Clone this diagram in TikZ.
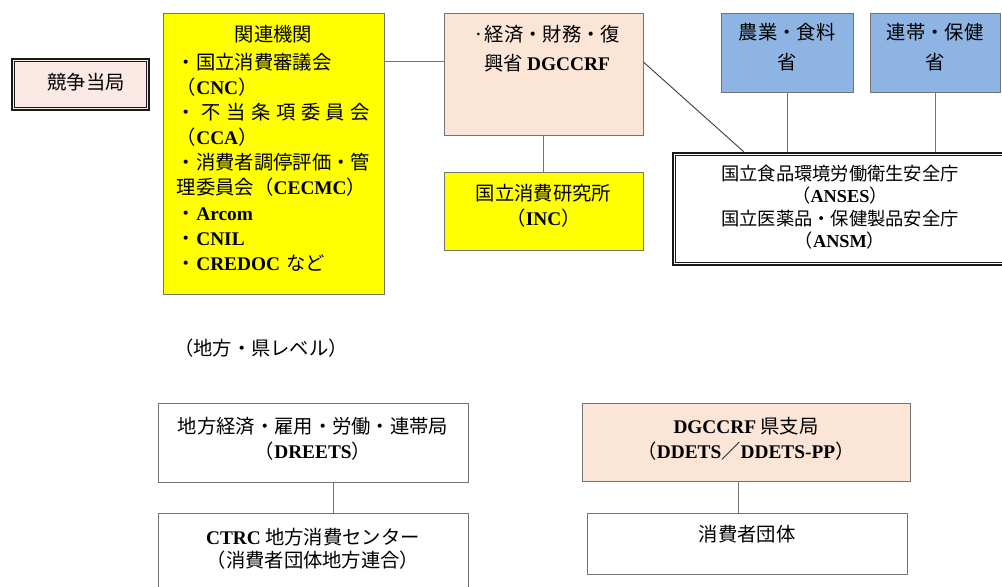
\documentclass[tikz,border=0pt]{standalone}
\usepackage{fontspec}
\setmainfont{Noto Sans CJK JP}
\newfontfamily\latfont{Liberation Serif}
\newcommand{\en}[1]{{\latfont\bfseries #1}}
\definecolor{compfill}{HTML}{FAE9E4}
\definecolor{agencyyellow}{HTML}{FFFF00}
\definecolor{ministrypink}{HTML}{FBE5D7}
\definecolor{ministryblue}{HTML}{8EB4E3}

\begin{document}
\begin{tikzpicture}[x=0.03cm,y=-0.03cm,
					box/.style={draw=black!55, line width=0.6pt, rectangle},
					heavybox/.style={draw=black!90, line width=2.2pt, rectangle},
					innerline/.style={draw=black!90, line width=0.7pt},
					boxtext/.style={align=center, font=\fontsize{16.5}{21.5}\selectfont},
					link/.style={draw=black!55, line width=0.8pt}]
					\tikzstyle{every node}=[inner sep=0pt]
					
					\useasboundingbox (0,0) rectangle (1002,587);
					
					\node[heavybox, fill=compfill, minimum width=4.11cm, minimum height=1.53cm] at (80.5,84.5) (comp) {};
					\node[box, fill=agencyyellow, minimum width=6.63cm, minimum height=8.43cm] at (273.5,153.5) (kanren) {};
					\node[box, fill=ministrypink, minimum width=5.97cm, minimum height=3.66cm] at (543.5,74) (dgccrf) {};
					\node[box, fill=agencyyellow, minimum width=5.97cm, minimum height=2.34cm] at (543.5,211) (inc) {};
					\node[box, fill=ministryblue, minimum width=3.96cm, minimum height=2.37cm] at (787,52.5) (agri) {};
					\node[box, fill=ministryblue, minimum width=3.9cm, minimum height=2.37cm] at (935,52.5) (health) {};
					\node[heavybox, fill=white, minimum width=9.99cm, minimum height=3.36cm] at (839.5,209) (anses) {};
					\node[box, fill=white, minimum width=9.3cm, minimum height=2.37cm] at (313,442.5) (dreets) {};
					\node[box, fill=white, minimum width=9.3cm, minimum height=2.61cm] at (313,556.5) (ctrc) {};
					\node[box, fill=ministrypink, minimum width=9.84cm, minimum height=2.34cm] at (746,442) (ddets) {};
					\node[box, fill=white, minimum width=9.6cm, minimum height=1.83cm] at (747,543.5) (assoc) {};
					
					\draw[innerline] ([shift={(3.2pt,-3.2pt)}]comp.north west) rectangle ([shift={(-3.2pt,3.2pt)}]comp.south east);
					\draw[innerline] ([shift={(3.2pt,-3.2pt)}]anses.north west) rectangle ([shift={(-3.2pt,3.2pt)}]anses.south east);
					
					\node[boxtext] at (86,82) (comptext) {競争当局};
					\node[boxtext, align=left, text width=5.79cm, anchor=north] at (273.5,25) (kanrentext) {\makebox[\linewidth]{関連機関}\\[2pt]
						・国立消費審議会\\
						（\en{CNC}）\\
						\makebox[\linewidth][s]{・\hfil 不\hfil 当\hfil 条\hfil 項\hfil 委\hfil 員\hfil 会}\\
						（\en{CCA}）\\
						・消費者調停評価・管\\
						理委員会（\en{CECMC}）\\
						・\en{Arcom}\\
						・\en{CNIL}\\
						・\en{CREDOC}\ など};
					\node[boxtext, font=\fontsize{16.5}{24.8}\selectfont] at (547,48.5) (dgccrftext) {·経済・財務・復\\興省 \en{DGCCRF}};
					\node[boxtext] at (543.5,205.5) (inctext) {国立消費研究所\\（\en{INC}）};
					\node[boxtext, font=\fontsize{16.5}{25.6}\selectfont] at (787,47) (agritext) {農業・食料\\省};
					\node[boxtext, font=\fontsize{16.5}{25.6}\selectfont] at (935,47) (healthtext) {連帯・保健\\省};
					\node[boxtext, font=\fontsize{15.6}{19.2}\selectfont] at (840,207) (ansestext) {国立食品環境労働衛生安全庁\\（\en{ANSES}）\\国立医薬品・保健製品安全庁\\（\en{ANSM}）};
					\node[boxtext] at (261,348) (regional) {（地方・県レベル）};
					\node[boxtext] at (313,439) (dreetstext) {地方経済・雇用・労働・連帯局\\（\en{DREETS}）};
					\node[boxtext, font=\fontsize{16.5}{19.6}\selectfont] at (313,548.5) (ctrctext) {\en{CTRC} 地方消費センター\\（消費者団体地方連合）};
					\node[boxtext] at (746,438.5) (ddetstext) {\en{DGCCRF} 県支局\\（\en{DDETS}／\en{DDETS-PP}）};
					\node[boxtext] at (747,534) (assoctext) {消費者団体};
					
					\draw[link] ([yshift=0.39cm]dgccrf.west) -- ([yshift=0.39cm]dgccrf.west -| kanren.east);
					\draw[link] (dgccrf.south) -- (inc.north);
					\draw[link, draw=black!75] ([yshift=0.36cm]dgccrf.east) -- ([xshift=2.16cm]anses.north west);
					\draw[link] (agri.south) -- (agri.south |- anses.north);
					\draw[link] (health.south) -- (health.south |- anses.north);
					\draw[link] ([xshift=0.6cm]dreets.south) -- ([xshift=0.6cm]ctrc.north);
					\draw[link] ([xshift=-0.24cm]ddets.south) -- ([xshift=-0.24cm]ddets.south |- assoc.north);
					
				\end{tikzpicture}
\end{document}
